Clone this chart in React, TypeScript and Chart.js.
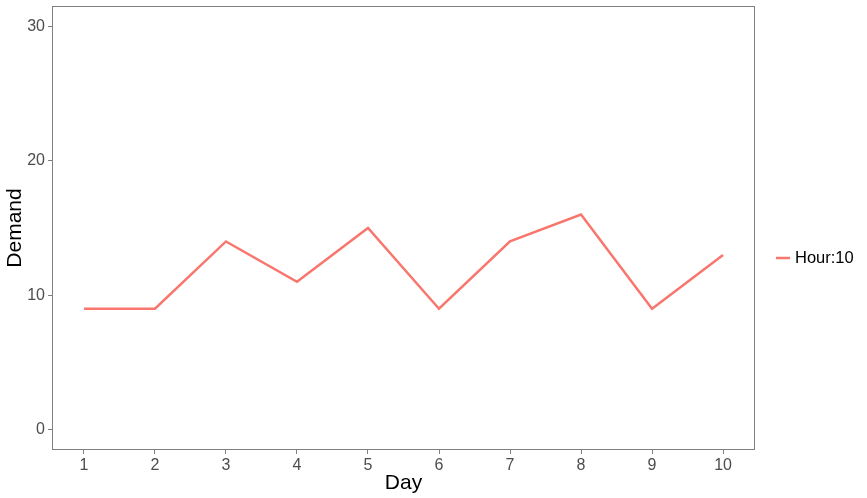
import React, { useEffect, useRef } from "react";
import { Chart, registerables } from "chart.js";

Chart.register(...registerables);

const days = [1, 2, 3, 4, 5, 6, 7, 8, 9, 10];
const demand = [9, 9, 14, 11, 15, 9, 14, 16, 9, 13];
const yTicks = [0, 10, 20, 30];
const seriesLabel = "Hour:10";
const xTitle = "Day";
const yTitle = "Demand";

const FONT = "'Liberation Sans', Arial, sans-serif";
const LINE_COLOR = "#F8766D";

export default function App() {
  const ref = useRef<HTMLCanvasElement | null>(null);
  useEffect(() => {
    document.body.style.margin = "0";
    const canvas = ref.current;
    if (!canvas) return;
    const decor = {
      id: "decor",
      afterDraw(chart: any) {
        const { ctx, chartArea } = chart;
        const { left, right, top, bottom } = chartArea;
        ctx.save();
        ctx.strokeStyle = "#7f7f7f";
        ctx.lineWidth = 1;
        ctx.strokeRect(left + 0.5, top + 0.5, right - left - 1, bottom - top - 1);
        ctx.fillStyle = "#000";
        ctx.font = `21px ${FONT}`;
        ctx.textAlign = "center";
        ctx.textBaseline = "middle";
        ctx.fillText(xTitle, (left + right) / 2, 483);
        ctx.save();
        ctx.translate(15, (top + bottom) / 2);
        ctx.rotate(-Math.PI / 2);
        ctx.fillText(yTitle, 0, 0);
        ctx.restore();
        // legend
        const ly = 258;
        ctx.strokeStyle = LINE_COLOR;
        ctx.lineWidth = 2.5;
        ctx.beginPath();
        ctx.moveTo(776, ly);
        ctx.lineTo(790, ly);
        ctx.stroke();
        ctx.font = `16.5px ${FONT}`;
        ctx.textAlign = "left";
        ctx.fillStyle = "#000";
        ctx.fillText(chart.data.datasets[0].label, 795, ly);
        ctx.restore();
      },
    };
    const chart = new Chart(canvas, {
      type: "line",
      data: {
        datasets: [
          {
            label: seriesLabel,
            data: days.map((d, i) => ({ x: d, y: demand[i] })),
            borderColor: LINE_COLOR,
            borderWidth: 2.5,
            pointRadius: 0,
            tension: 0,
          },
        ],
      },
      options: {
        animation: false,
        responsive: false,
        layout: { padding: { left: 0, top: 6, right: 112, bottom: 0 } },
        plugins: { legend: { display: false }, tooltip: { enabled: false } },
        scales: {
          x: {
            type: "linear",
            min: 0.55,
            max: 10.45,
            afterFit: (s: any) => {
              s.height = 48;
              s.paddingLeft = 0;
              s.paddingRight = 0;
            },
            afterBuildTicks: (s: any) => { s.ticks = days.map((v) => ({ value: v })); },
            grid: { drawOnChartArea: false, drawTicks: true, tickLength: 4, tickColor: "#7f7f7f", tickWidth: 1 },
            border: { display: false },
            ticks: { color: "#4d4d4d", font: { family: FONT, size: 16 }, padding: 2, maxRotation: 0, autoSkip: false },
          },
          y: {
            min: -1.5,
            max: 31.5,
            afterFit: (s: any) => {
              s.width = 52;
              s.paddingTop = 0;
              s.paddingBottom = 0;
            },
            afterBuildTicks: (s: any) => { s.ticks = yTicks.map((v) => ({ value: v })); },
            grid: { drawOnChartArea: false, drawTicks: true, tickLength: 4, tickColor: "#7f7f7f", tickWidth: 1 },
            border: { display: false },
            ticks: { color: "#4d4d4d", font: { family: FONT, size: 16 }, padding: 3 },
          },
        },
      },
      plugins: [decor],
    } as any);
    return () => chart.destroy();
  }, []);
  return (
    <div style={{ position: "absolute", left: 0, top: 0, width: 867, height: 498 }}>
      <canvas ref={ref} width={867} height={498} style={{ width: 867, height: 498 }} />
    </div>
  );
}
